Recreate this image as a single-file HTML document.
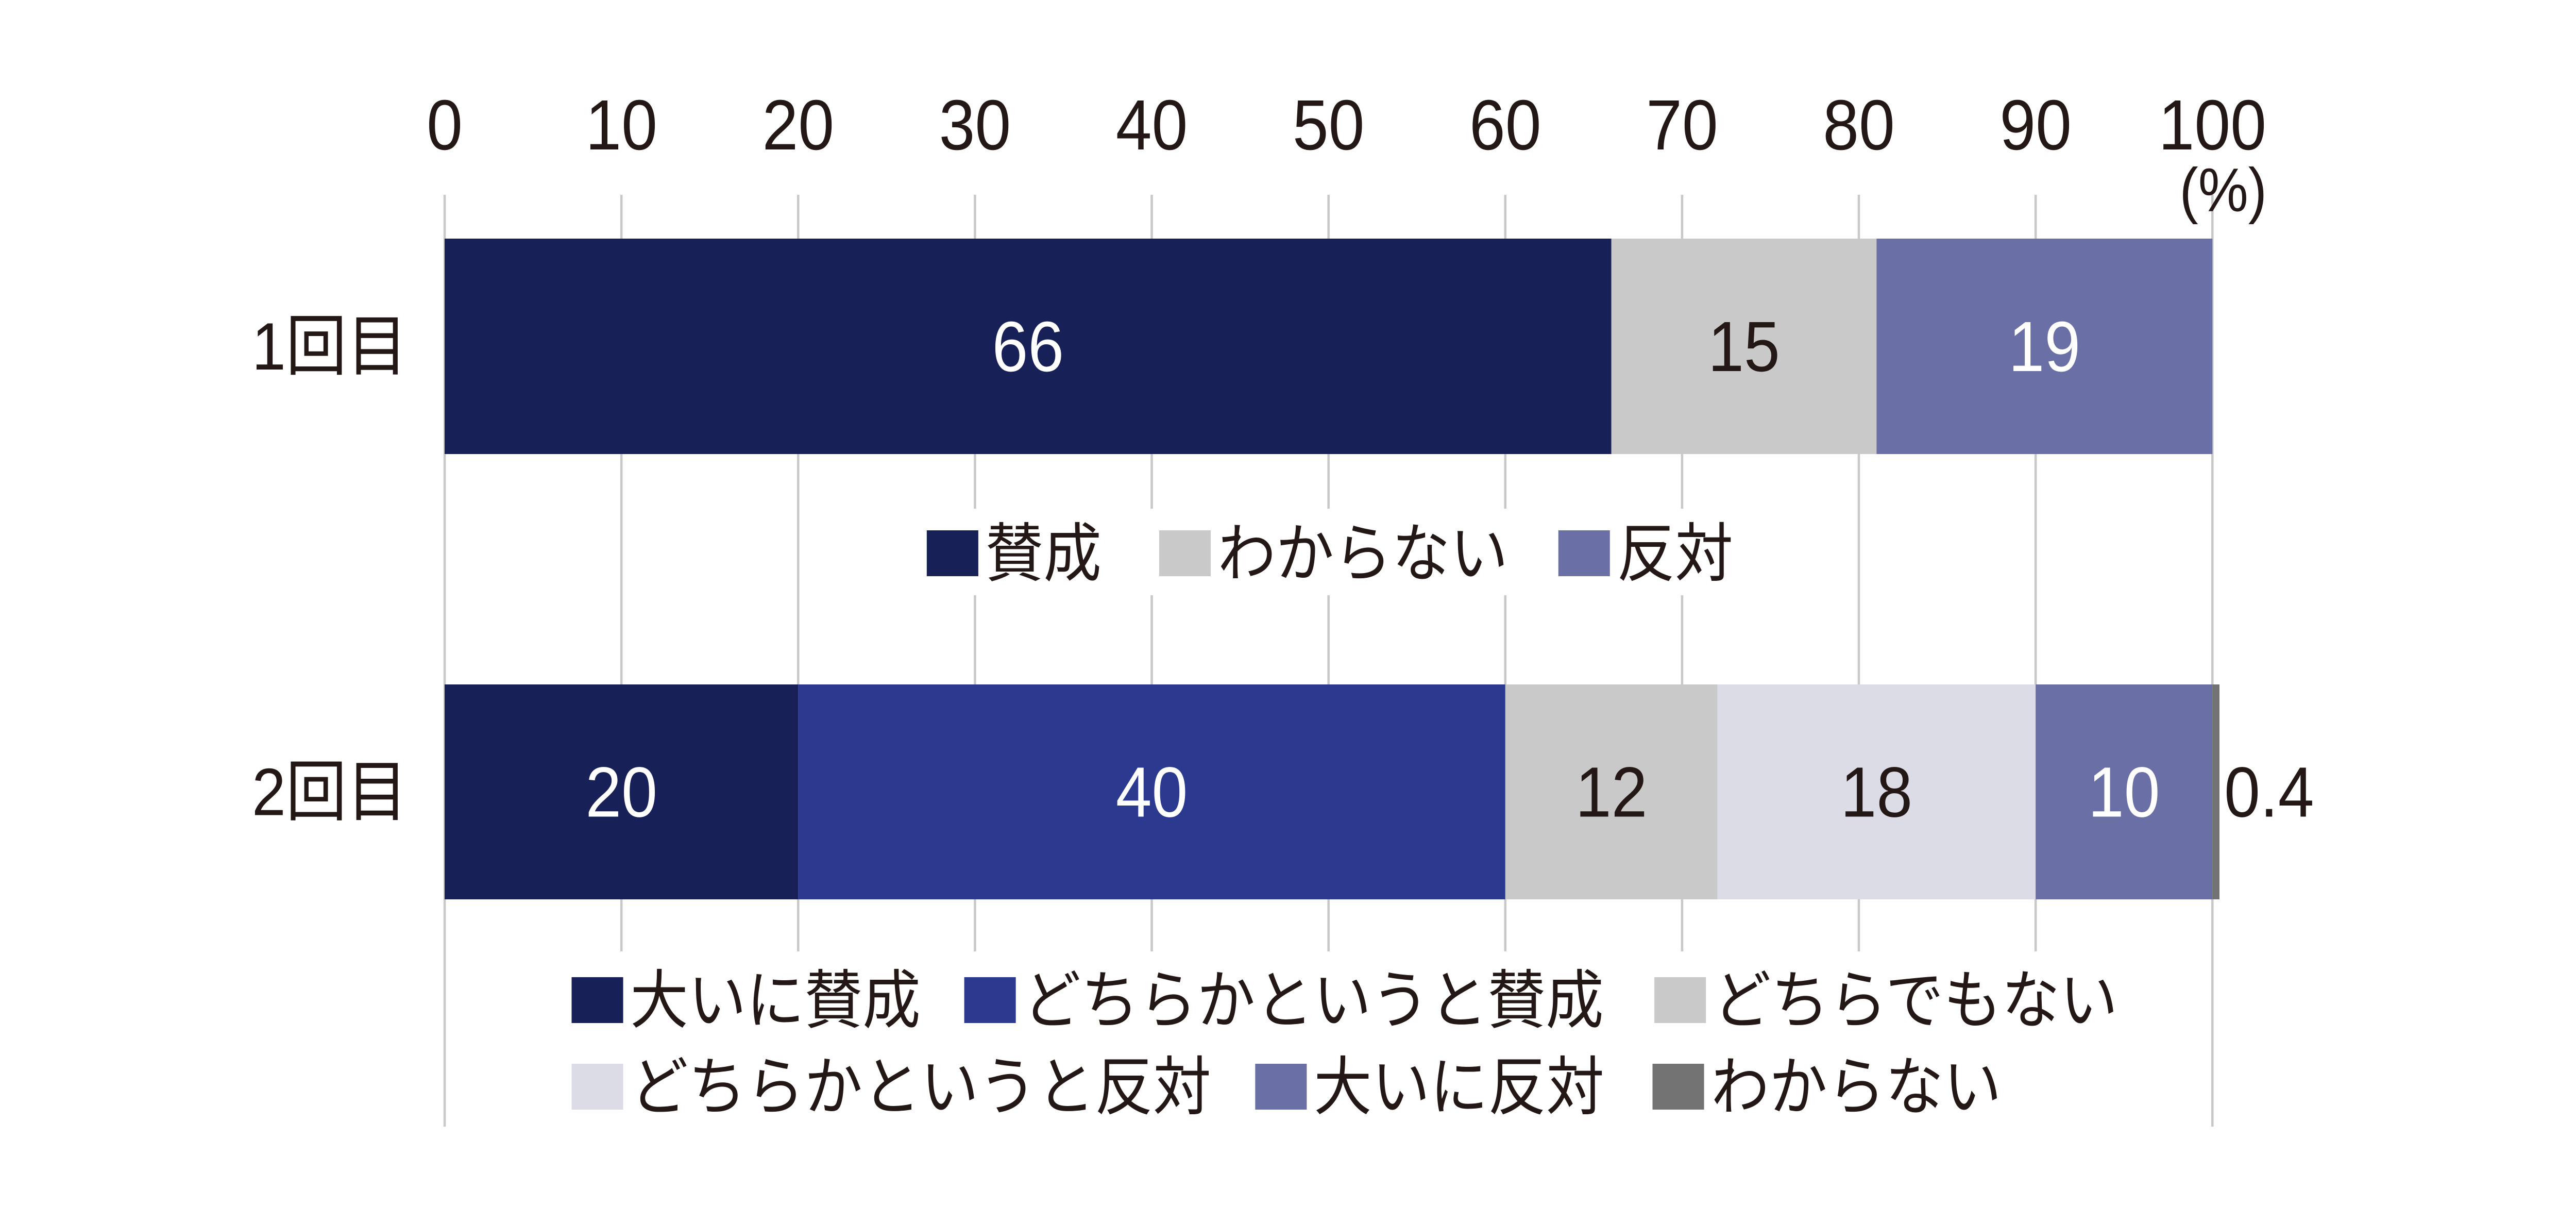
<!DOCTYPE html>
<html><head><meta charset="utf-8"><style>
html,body{margin:0;padding:0;background:#fff;overflow:hidden;width:100%;height:100%;}
svg{display:block;width:100vw;height:100vh;}
text{font-family:"Liberation Sans","Noto Sans CJK JP",sans-serif;}
</style></head><body>
<svg id="chart" viewBox="0 0 5498 2373" preserveAspectRatio="none" xmlns="http://www.w3.org/2000/svg">
<g id="grid"></g>
<g id="ticks"></g>
<text x="4745" y="410" font-size="120" text-anchor="middle" fill="#231815">(%)</text>
<g id="bars"></g>
<g id="leg"></g>
</svg>
<script>
const ticks = [0,10,20,30,40,50,60,70,80,90,100];
const rows = ["1回目","2回目"];
const s1Names = ["賛成","わからない","反対"];
const s1Values = [66,15,19];
const s2Names = ["大いに賛成","どちらかというと賛成","どちらでもない","どちらかというと反対","大いに反対","わからない"];
const s2Values = [20,40,12,18,10,0.4];
const s1Colors = ["#172057","#c9c9c9","#6a70a6"];
const s2Colors = ["#172057","#2b3a8f","#c9c9c9","#dcdce6","#6a70a6","#737373"];
const s1Text = ["#fff","#231815","#fff"];
const s2Text = ["#fff","#fff","#231815","#231815","#fff","#231815"];

const X0=949, X1=4722;
const xs = v => X0 + (X1-X0)*v/100;
const NS="http://www.w3.org/2000/svg";
function mk(tag, attrs, parent){const e=document.createElementNS(NS,tag);for(const k in attrs)e.setAttribute(k,attrs[k]);parent.appendChild(e);return e;}
const grid=document.getElementById('grid'), tk=document.getElementById('ticks'), bars=document.getElementById('bars'), leg=document.getElementById('leg');

ticks.forEach(t=>{
  const l=mk('line',{x1:xs(t),x2:xs(t),y1:378,y2:(t===0||t===100)?2186:1846,stroke:'#c8c8c8','stroke-width':5},grid);
  
  
  const tx=mk('text',{x:xs(t),y:290,'font-size':138,'text-anchor':'middle',fill:'#231815'},tk);
  tx.textContent=t;
  
  
});

const rowY=[[463,881],[1328,1745]];
function drawRow(ri, vals, cols, tcols){
  const [y0,y1]=rowY[ri];
  const lab=mk('text',{x:870,y:(y0+y1)/2+45,'font-size':130,'text-anchor':'end',fill:'#231815'},bars);
  lab.textContent=rows[ri];
  
  
  let c=0;
  vals.forEach((v,i)=>{
    const a=xs(c), b=xs(c+v);
    const r=mk('rect',{x:a,y:y0,width:b-a,height:y1-y0,fill:cols[i]},bars);
    
    
    const small = v<3;
    const t=mk('text',{x:small?b+10:(a+b)/2,y:(y0+y1)/2+48,'font-size':138,'text-anchor':small?'start':'middle',fill:tcols[i]},bars);
    t.textContent=v;
    
    
    c+=v;
  });
}
drawRow(0,s1Values,s1Colors,s1Text);
drawRow(1,s2Values,s2Colors,s2Text);

const bg1=mk('rect',{x:1930,y:987,width:1800,height:168,fill:'#fff'},leg);



function legItem(x,yc,col,name,id){
  const r=mk('rect',{x:x,y:yc-44,width:110,height:89,fill:col},leg);
  
  
  const t=mk('text',{x:x+125,y:yc+44,'font-size':124,fill:'#231815'},leg);
  t.textContent=name;
  
  
}
const l1x=[1978,2474,3326];
s1Names.forEach((n,i)=>legItem(l1x[i],1073,s1Colors[i],n,'r1-'+(i+1)));
const l2=[[1220,1940],[2058,1940],[3531,1940],[1220,2108],[2679,2108],[3527,2108]];
s2Names.forEach((n,i)=>legItem(l2[i][0],l2[i][1],s2Colors[i],n,'r2-'+(i+1)));
</script>
</body></html>
